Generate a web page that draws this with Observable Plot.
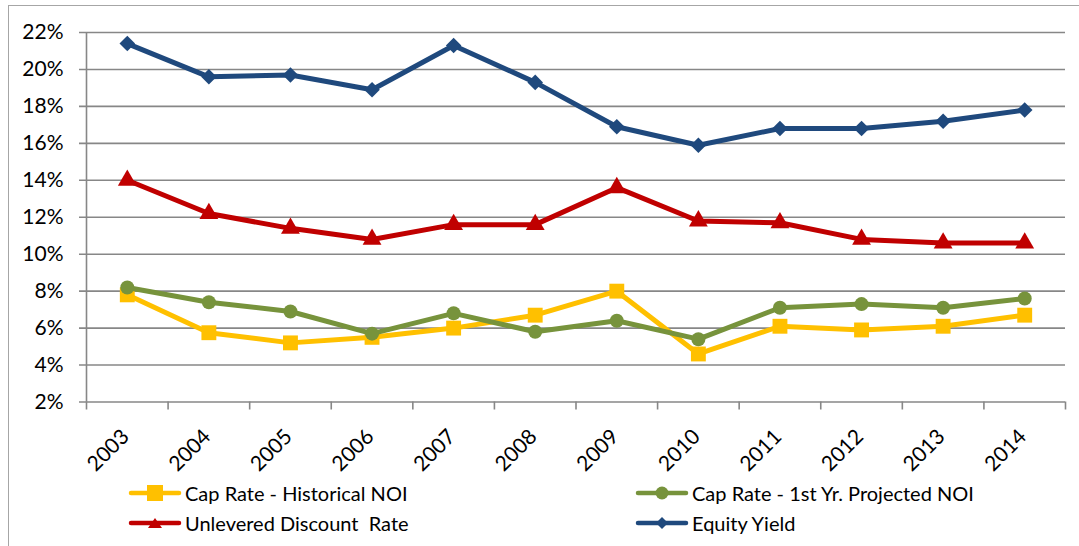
<!DOCTYPE html>
<html><head><meta charset="utf-8">
<script src="https://cdn.jsdelivr.net/npm/d3@7"></script>
<script src="https://cdn.jsdelivr.net/npm/@observablehq/plot@0.6"></script>
<style>
body{margin:0;background:#fff;font-family:Lato,sans-serif;}
#wrap{position:relative;width:1079px;height:546px;overflow:hidden;background:#fff}
#frame{position:absolute;left:8px;top:5px;width:1200px;height:700px;border:1.5px solid #a6a6a6;box-sizing:border-box}
#chart{position:absolute;left:0;top:0}
.leg{position:absolute;display:flex;align-items:center;font-size:20px;white-space:pre;color:#000;height:30px}
.leg svg{margin-right:3px}
</style></head><body>
<div id="wrap"><div id="frame"></div><div id="chart"></div><div id="legend"></div></div>
<script>
const years = ["2003","2004","2005","2006","2007","2008","2009","2010","2011","2012","2013","2014"];
const yTicks = [2,4,6,8,10,12,14,16,18,20,22];
const capHistorical = [7.8, 5.75, 5.2, 5.5, 6.0, 6.7, 8.0, 4.6, 6.1, 5.9, 6.1, 6.7];
const capProjected  = [8.2, 7.4, 6.9, 5.7, 6.8, 5.8, 6.4, 5.4, 7.1, 7.3, 7.1, 7.6];
const discountRate  = [14.0, 12.2, 11.4, 10.8, 11.6, 11.6, 13.6, 11.8, 11.7, 10.8, 10.6, 10.6];
const equityYield   = [21.4, 19.6, 19.7, 18.9, 21.3, 19.3, 16.9, 15.9, 16.8, 16.8, 17.2, 17.8];
const seriesNames = ["Cap Rate - Historical NOI", "Cap Rate - 1st Yr. Projected NOI", "Unlevered Discount  Rate", "Equity Yield"];

const series = [
  {name: seriesNames[0], values: capHistorical, color: "#FFC000", symbol: "square", r: 8.4},
  {name: seriesNames[1], values: capProjected, color: "#77933C", symbol: "circle", r: 7},
  {name: seriesNames[2], values: discountRate, color: "#C00000", symbol: "triangle", r: 7},
  {name: seriesNames[3], values: equityYield, color: "#1F497D", symbol: "diamond2", r: 7}
];

const W = 1079, H = 478, mL = 86, mR = 14, mT = 32, mB = H - 401.5;
const step = (W - mL - mR) / years.length;
const grid = "#878787";

const marks = [
  Plot.ruleY(yTicks, {y: d => d, stroke: grid, strokeWidth: 1.6, insetLeft: -7}),
  Plot.ruleX([years[0]], {x: d => d, y1: 2, y2: 22, dx: -step/2, stroke: grid, strokeWidth: 1.6}),
  Plot.ruleX(years, {x: d => d, y1: 2, y2: 2, dx: -step/2, insetBottom: -8, stroke: grid, strokeWidth: 1.6}),
  Plot.ruleX([years[years.length-1]], {x: d => d, y1: 2, y2: 2, dx: step/2, insetBottom: -8, stroke: grid, strokeWidth: 1.6}),
  Plot.text(yTicks, {y: d => d, text: d => d + "%", frameAnchor: "left", textAnchor: "end", dx: -23, fontSize: 21, fill: "#000"}),
  Plot.text(years, {x: d => d, y: 2, text: d => d, rotate: -45, textAnchor: "end", lineAnchor: "bottom", dx: 3, dy: 36, fontSize: 21, fill: "#000"})
];
for (const s of series) {
  const rows = years.map((yr, i) => ({year: yr, value: s.values[i]}));
  marks.push(Plot.line(rows, {x: "year", y: "value", stroke: s.color, strokeWidth: 5, strokeLinejoin: "round"}));
  marks.push(Plot.dot(rows, {x: "year", y: "value", symbol: s.symbol, r: s.r, fill: s.color, stroke: "none"}));
}

const chart = Plot.plot({
  width: W, height: H, marginLeft: mL, marginRight: mR, marginTop: mT, marginBottom: mB,
  x: {type: "point", domain: years, padding: 0.5, round: false, axis: null},
  y: {domain: [2, 22], axis: null},
  style: {fontFamily: "Lato, sans-serif", fontSize: "21px", background: "transparent", overflow: "visible"},
  marks
});
document.getElementById("chart").appendChild(chart);

// legend
const legPos = [[128, 478], [635, 478], [128, 508], [635, 508]];
const leg = document.getElementById("legend");
const symPath = {
  square: '<rect x="19" y="3" width="16" height="16" />',
  circle: '<circle cx="27" cy="11" r="6.5" />',
  triangle: '<path d="M27 6 L34 16 L20 16 Z" />',
  diamond2: '<path d="M27 5 L33 11 L27 17 L21 11 Z" />'
};
series.forEach((s, i) => {
  const d = document.createElement("div");
  d.className = "leg";
  d.style.left = legPos[i][0] + "px";
  d.style.top = legPos[i][1] + "px";
  d.innerHTML = `<svg width="54" height="22"><line x1="3" x2="51" y1="11" y2="11" stroke="${s.color}" stroke-width="4.5" stroke-linecap="round"/><g fill="${s.color}">${symPath[s.symbol]}</g></svg><span>${s.name}</span>`;
  leg.appendChild(d);
});
</script>
</body></html>
